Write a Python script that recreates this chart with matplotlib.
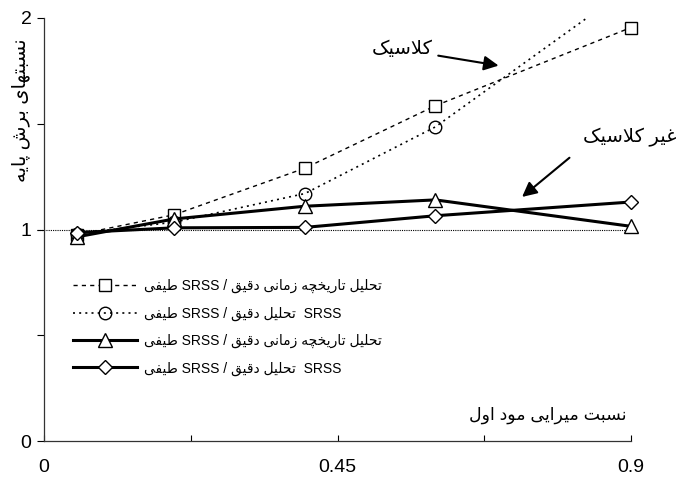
import numpy as np
import matplotlib
matplotlib.use('Agg')
import matplotlib.pyplot as plt

# data
damping = [0.05, 0.2, 0.4, 0.6, 0.9]
th_classic = [0.975, 1.07, 1.29, 1.585, 1.955]      # square
exact_classic = [0.98, 1.035, 1.17, 1.485, 2.15]    # circle
th_nonclassic = [0.965, 1.05, 1.11, 1.14, 1.015]    # triangle
exact_nonclassic = [0.985, 1.008, 1.01, 1.065, 1.13]  # diamond

x_ticks = [0, 0.225, 0.45, 0.675, 0.9]
x_ticklabels = ['0', '', '0.45', '', '0.9']
y_ticks = [0, 0.5, 1, 1.5, 2]
y_ticklabels = ['0', '', '1', '', '2']

# minimal persian shaping (matplotlib has no complex text layout)
FORMS = {
    'ا': ('\uFE8D', '\uFE8E', None, None),
    'ب': ('\uFE8F', '\uFE90', '\uFE91', '\uFE92'),
    'پ': ('\uFB56', '\uFB57', '\uFB58', '\uFB59'),
    'ت': ('\uFE95', '\uFE96', '\uFE97', '\uFE98'),
    'ح': ('\uFEA1', '\uFEA2', '\uFEA3', '\uFEA4'),
    'خ': ('\uFEA5', '\uFEA6', '\uFEA7', '\uFEA8'),
    'چ': ('\uFB7A', '\uFB7B', '\uFB7C', '\uFB7D'),
    'د': ('\uFEA9', '\uFEAA', None, None),
    'ر': ('\uFEAD', '\uFEAE', None, None),
    'ز': ('\uFEAF', '\uFEB0', None, None),
    'س': ('\uFEB1', '\uFEB2', '\uFEB3', '\uFEB4'),
    'ش': ('\uFEB5', '\uFEB6', '\uFEB7', '\uFEB8'),
    'ط': ('\uFEC1', '\uFEC2', '\uFEC3', '\uFEC4'),
    'غ': ('\uFECD', '\uFECE', '\uFECF', '\uFED0'),
    'ف': ('\uFED1', '\uFED2', '\uFED3', '\uFED4'),
    'ق': ('\uFED5', '\uFED6', '\uFED7', '\uFED8'),
    'ک': ('\uFB8E', '\uFB8F', '\uFB90', '\uFB91'),
    'ل': ('\uFEDD', '\uFEDE', '\uFEDF', '\uFEE0'),
    'م': ('\uFEE1', '\uFEE2', '\uFEE3', '\uFEE4'),
    'ن': ('\uFEE5', '\uFEE6', '\uFEE7', '\uFEE8'),
    'ه': ('\uFEE9', '\uFEEA', '\uFEEB', '\uFEEC'),
    'و': ('\uFEED', '\uFEEE', None, None),
    'ی': ('\uFBFC', '\uFBFD', '\uFBFE', '\uFBFF'),
}


def shape(word):
    if not any(c in FORMS for c in word):
        return word
    out = []
    prev_join = False
    i = 0
    while i < len(word):
        c = word[i]
        if c not in FORMS:
            out.append(c)
            prev_join = False
            i += 1
            continue
        if c == 'ل' and i + 1 < len(word) and word[i + 1] == 'ا':
            out.append('\uFEFC' if prev_join else '\uFEFB')
            prev_join = False
            i += 2
            continue
        iso, fin, ini, med = FORMS[c]
        nxt = ini is not None and i + 1 < len(word) and word[i + 1] in FORMS
        if prev_join and nxt:
            g = med
        elif prev_join:
            g = fin
        elif nxt:
            g = ini
        else:
            g = iso
        out.append(g)
        prev_join = ini is not None
        i += 1
    return ''.join(reversed(out))


def rtl(s):
    # logical order in, visual (left to right) order out
    return ' '.join(reversed([shape(w) for w in s.split(' ')]))


lab_th = rtl('تحلیل تاریخچه زمانی دقیق / SRSS طیفی')
lab_ex = rtl('SRSS  تحلیل دقیق / SRSS طیفی')

plt.rcParams['font.family'] = ['Liberation Sans', 'DejaVu Sans']

fig = plt.figure(figsize=(6.82, 4.84), dpi=100)
ax = fig.add_axes([44 / 682, 43 / 484, 587 / 682, 423 / 484])

ax.axhline(1, color='black', lw=0.8, ls=(0, (1, 1)), xmin=-0.012, clip_on=False, zorder=1)

mk = dict(markersize=9, markeredgewidth=1.0, markeredgecolor='black', clip_on=False)
ax.plot(damping, th_classic, color='black', lw=1.0, ls=(0, (3, 3)),
        marker='s', markerfacecolor='white', label=lab_th, **mk)
# the exact classic curve runs off the top of the plot, so it stays clipped
ax.plot(damping, exact_classic, color='black', lw=1.2, ls=(0, (1.2, 2.5)),
        marker='o', markerfacecolor='none', label=lab_ex,
        markersize=9, markeredgewidth=1.0, markeredgecolor='black')
ax.plot(damping, th_nonclassic, color='black', lw=2.2,
        marker='^', markerfacecolor='white', label=lab_th, **dict(mk, markersize=10))
ax.plot(damping, exact_nonclassic, color='black', lw=2.2,
        marker='D', markerfacecolor='white', label=lab_ex, **dict(mk, markersize=7.5))

ax.set_xlim(0, 0.9)
ax.set_ylim(0, 2)
ax.set_xticks(x_ticks)
ax.set_xticklabels(x_ticklabels)
ax.set_yticks(y_ticks)
ax.set_yticklabels(y_ticklabels)
ax.tick_params(axis='x', direction='in', length=4, width=0.8, labelsize=14, pad=13)
ax.tick_params(axis='y', direction='out', length=5, width=0.8, labelsize=14, pad=4)
for s in ['top', 'right']:
    ax.spines[s].set_visible(False)
for s in ['left', 'bottom']:
    ax.spines[s].set_linewidth(0.9)
    ax.spines[s].set_color('#333333')

fig.text(21 / 682, 1 - 110 / 484, rtl('نسبتهای برش پایه'), rotation=90,
         ha='center', va='center', fontsize=14)
fig.text(627 / 682, 1 - 415 / 484, rtl('نسبت میرایی مود اول'),
         ha='right', va='center', fontsize=12.5)

ax.annotate(rtl('کلاسیک'), xy=(0.697, 1.775), xytext=(0.596, 1.85),
            ha='right', va='center', fontsize=14,
            arrowprops=dict(arrowstyle='-|>', color='black', lw=1.5,
                            mutation_scale=22, shrinkA=2, shrinkB=0))
ax.annotate(rtl('غیر کلاسیک'), xy=(0.733, 1.154), xytext=(0.898, 1.437),
            ha='center', va='center', fontsize=14,
            arrowprops=dict(arrowstyle='-|>', color='black', lw=1.5, relpos=(0, 0),
                            mutation_scale=22, shrinkA=10, shrinkB=0))

ax.legend(loc='upper left', bbox_to_anchor=(73 / 682, 1 - 279 / 484),
          bbox_transform=fig.transFigure, frameon=False, fontsize=10,
          handlelength=4.6, handletextpad=0.5, labelspacing=0.95,
          borderpad=0, borderaxespad=0)

fig.savefig('out.png', dpi=100)
